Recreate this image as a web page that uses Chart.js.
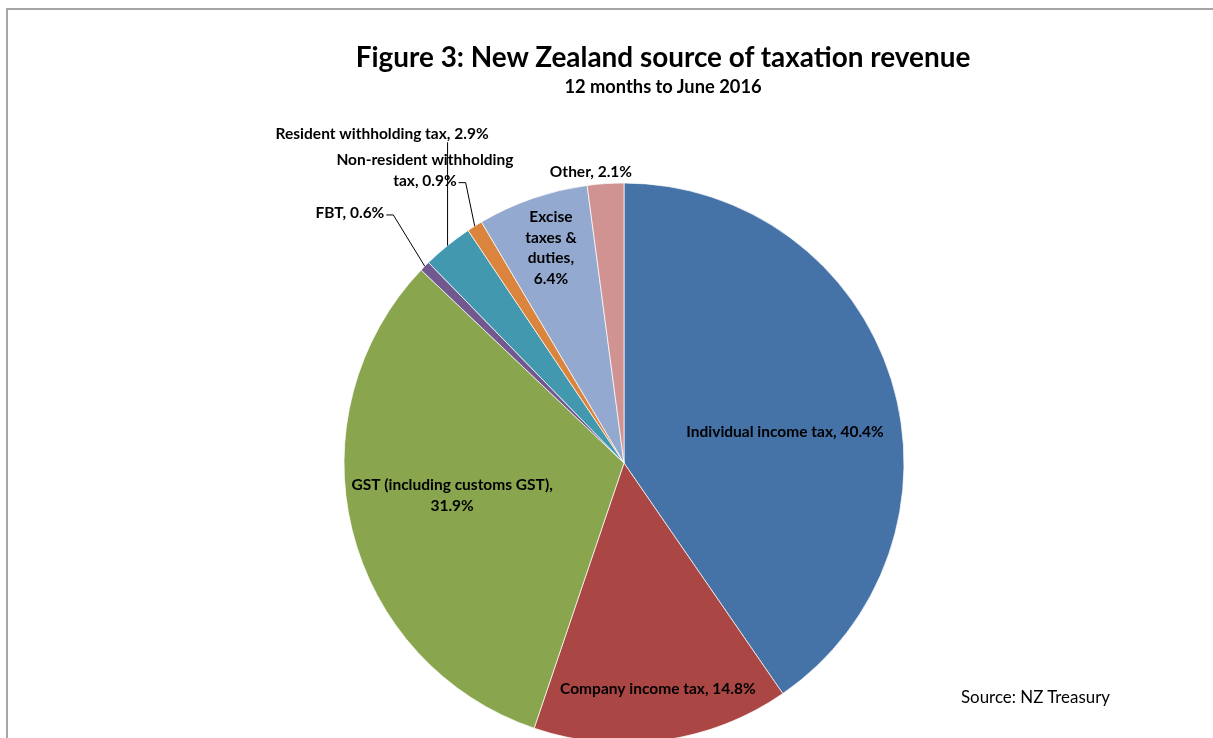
<!DOCTYPE html>
<html>
<head>
<meta charset="utf-8">
<title>New Zealand source of taxation revenue</title>
<script src="https://cdn.jsdelivr.net/npm/chart.js@4/dist/chart.umd.min.js"></script>
<style>
  html, body { margin: 0; padding: 0; background: #fff; overflow: hidden; }
  #wrap { position: relative; width: 1213px; height: 738px; }
  #frame { position: absolute; left: 6px; top: 8px; width: 1300px; height: 800px; border: 2px solid #a6a6a6; box-sizing: border-box; }
  #pie { position: absolute; left: 0; top: 0; }
  .txt { position: absolute; font-family: Lato, "Open Sans", sans-serif; color: #000; white-space: nowrap; }
  #title { left: 263px; width: 800px; top: 39px; text-align: center; font-weight: bold; font-size: 27.9px; line-height: 34px; }
  #subtitle { left: 463px; width: 400px; top: 75px; text-align: center; font-weight: bold; font-size: 18.3px; line-height: 22px; }
  #source { left: 961px; top: 686px; font-size: 16.9px; line-height: 22px; }
</style>
</head>
<body>
<div id="wrap">
  <div id="frame"></div>
  <canvas id="pie" width="1213" height="738"></canvas>
  <div class="txt" id="title">Figure 3: New Zealand source of taxation revenue</div>
  <div class="txt" id="subtitle">12 months to June 2016</div>
  <div class="txt" id="source">Source: NZ Treasury</div>
</div>
<script>
// share of total tax revenue, %
const categories = [
  'Individual income tax',
  'Company income tax',
  'GST (including customs GST)',
  'FBT',
  'Resident withholding tax',
  'Non-resident withholding tax',
  'Excise taxes & duties',
  'Other'
];
const shares = [40.4, 14.8, 31.9, 0.6, 2.9, 0.9, 6.4, 2.1];
const sliceColors = ['#4572A7', '#AA4643', '#89A54E', '#71588F', '#4198AF', '#DB843D', '#93A9CF', '#D19392'];

// label placement, in units of the pie radius from its centre
const labelSpots = [
  { dx: 0.575, dy: -0.111, wrap: 400 },
  { dx: 0.121, dy: 0.807, wrap: 400 },
  { dx: -0.614, dy: 0.116, wrap: 230 },
  { dx: -0.979, dy: -0.893, wrap: 400, leader: 'side' },
  { dx: -0.864, dy: -1.175, wrap: 400, leader: 'drop' },
  { dx: -0.711, dy: -1.045, wrap: 195, leader: 'side' },
  { dx: -0.261, dy: -0.768, wrap: 64 },
  { dx: -0.118, dy: -1.039, wrap: 400 }
];

const LABEL_FONT = 'bold 15.5px Lato, "Open Sans", sans-serif';
const LINE_H = 20.5;

function wrapText(ctx, text, maxW) {
  const words = text.split(' ');
  const lines = [];
  let cur = '';
  words.forEach(w => {
    const test = cur ? cur + ' ' + w : w;
    if (cur && ctx.measureText(test).width > maxW) {
      lines.push(cur);
      cur = w;
    } else {
      cur = test;
    }
  });
  if (cur) lines.push(cur);
  return lines;
}

// category labels with leader lines for the thin slices
const sliceLabels = {
  id: 'sliceLabels',
  afterDatasetsDraw(chart) {
    const ctx = chart.ctx;
    const arcs = chart.getDatasetMeta(0).data;
    ctx.save();
    ctx.font = LABEL_FONT;
    ctx.fillStyle = '#000';
    ctx.textAlign = 'center';
    ctx.textBaseline = 'middle';
    arcs.forEach((arc, i) => {
      const spot = labelSpots[i];
      const R = arc.outerRadius;
      const cx = arc.x + spot.dx * R;
      const cy = arc.y + spot.dy * R;
      const text = categories[i] + ', ' + shares[i].toFixed(1) + '%';
      const lines = wrapText(ctx, text, spot.wrap);
      const top = cy - (lines.length * LINE_H) / 2;
      lines.forEach((ln, k) => ctx.fillText(ln, cx, top + LINE_H * (k + 0.5)));

      if (spot.leader) {
        const mid = (arc.startAngle + arc.endAngle) / 2;
        const ax = arc.x + Math.cos(mid) * R;
        const ay = arc.y + Math.sin(mid) * R;
        ctx.beginPath();
        ctx.strokeStyle = '#000';
        ctx.lineWidth = 1;
        if (spot.leader === 'side') {
          const last = lines[lines.length - 1];
          const lx = cx + ctx.measureText(last).width / 2 + 2;
          const ly = top + LINE_H * (lines.length - 0.5) + 2;
          ctx.moveTo(lx, ly);
          ctx.lineTo(lx + 7, ly);
          ctx.lineTo(ax, ay);
        } else {
          const by = top + lines.length * LINE_H - 2;
          ctx.moveTo(ax, by);
          ctx.lineTo(ax, ay);
        }
        ctx.stroke();
      }
    });
    ctx.restore();
  }
};

new Chart(document.getElementById('pie'), {
  type: 'pie',
  data: {
    labels: categories,
    datasets: [{
      data: shares,
      backgroundColor: sliceColors,
      borderColor: 'rgba(255,255,255,0.7)',
      borderWidth: 1
    }]
  },
  options: {
    responsive: false,
    animation: false,
    radius: 280,
    layout: { padding: { left: 35, right: 0, top: 188, bottom: 0 } },
    plugins: {
      legend: { display: false },
      tooltip: { enabled: false }
    }
  },
  plugins: [sliceLabels]
});
</script>
</body>
</html>
